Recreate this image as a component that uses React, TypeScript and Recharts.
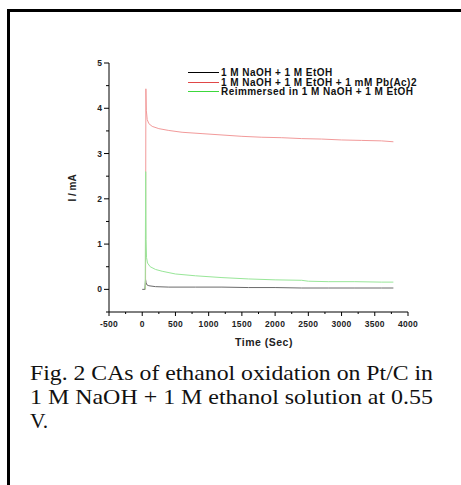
import { LineChart, Line, XAxis, YAxis, Legend } from 'recharts'

// chronoamperometry curves (time in s, current in mA)
const blackTime = [0, 40, 50, 58, 70, 100, 200, 400, 800, 1200, 1600, 2000, 2400, 2800, 3200, 3600, 3780]
const blackI = [0.0, 0.0, 0.22, 0.15, 0.1, 0.08, 0.06, 0.05, 0.05, 0.05, 0.04, 0.04, 0.03, 0.03, 0.03, 0.03, 0.03]

const redTime = [50, 55, 62, 75, 100, 150, 250, 400, 600, 900, 1200, 1500, 1800, 2100, 2400, 2700, 3000, 3300, 3600, 3780]
const redI = [0.0, 4.43, 3.95, 3.75, 3.66, 3.6, 3.55, 3.51, 3.47, 3.44, 3.41, 3.38, 3.36, 3.35, 3.33, 3.32, 3.3, 3.29, 3.28, 3.26]

const greenTime = [45, 52, 58, 65, 80, 120, 200, 300, 500, 800, 1200, 1600, 2000, 2400, 2500, 2800, 3200, 3600, 3780]
const greenI = [0.0, 2.6, 1.1, 0.7, 0.58, 0.5, 0.44, 0.4, 0.34, 0.3, 0.26, 0.23, 0.21, 0.2, 0.18, 0.17, 0.17, 0.16, 0.16]

const seriesNames = [
  '1 M NaOH + 1 M EtOH',
  '1 M NaOH + 1 M EtOH + 1 mM Pb(Ac)2',
  'Reimmersed in 1 M NaOH + 1 M EtOH',
]
const lineColors = ['#6a6a6a', '#f29a9a', '#98e698']
const legendColors = ['#000000', '#e04848', '#3cd83c']

const xTicks = [-500, -250, 0, 250, 500, 750, 1000, 1250, 1500, 1750, 2000, 2250, 2500, 2750, 3000, 3250, 3500, 3750, 4000]
const yTicks = [-0.5, 0, 0.5, 1, 1.5, 2, 2.5, 3, 3.5, 4, 4.5, 5]

const caption = [
  'Fig. 2 CAs of ethanol oxidation on Pt/C in',
  '1 M NaOH + 1 M ethanol solution at 0.55',
  'V.',
]

const zip = (t: number[], v: number[]) => t.map((x, i) => ({ t: x, i: v[i] }))
const seriesData = [zip(blackTime, blackI), zip(redTime, redI), zip(greenTime, greenI)]

const sans = '"Liberation Sans", Arial, sans-serif'

const XTick = (p: any) => {
  const v = p.payload.value
  const major = v % 500 === 0
  return (
    <g>
      <line x1={p.x} x2={p.x} y1={p.y} y2={p.y + (major ? 4 : 2)} stroke="#000" strokeWidth={1} />
      {major && (
        <text x={p.x} y={p.y + 15} textAnchor="middle" fontSize={8.5} fontWeight="bold" letterSpacing={0.3} fontFamily={sans} fill="#222">{v}</text>
      )}
    </g>
  )
}

const YTick = (p: any) => {
  const v = p.payload.value
  const major = Number.isInteger(v)
  return (
    <g>
      <line x1={p.x - (major ? 5 : 3)} x2={p.x} y1={p.y} y2={p.y} stroke="#000" strokeWidth={1} />
      {major && (
        <text x={p.x - 7} y={p.y + 3} textAnchor="end" fontSize={8.5} fontWeight="bold" fontFamily={sans} fill="#222">{v}</text>
      )}
    </g>
  )
}

const renderLegend = () => (
  <div style={{ fontFamily: sans, fontSize: 10, fontWeight: 'bold', letterSpacing: 0.45, color: '#111', whiteSpace: 'nowrap' }}>
    {seriesNames.map((n, k) => (
      <div key={n} style={{ height: 9.5, lineHeight: '9.5px', display: 'flex', alignItems: 'center' }}>
        <span style={{ display: 'inline-block', width: 31, height: 1, background: legendColors[k], marginRight: 2 }} />
        <span>{n}</span>
      </div>
    ))}
  </div>
)

export default function App() {
  return (
    <div style={{ position: 'absolute', left: 0, top: 0, width: 461, height: 485, overflow: 'hidden', background: '#fff' }}>
      <div style={{ position: 'absolute', left: 7, top: 9, width: 454, height: 476, boxSizing: 'border-box', borderLeft: '3px solid #000', borderTop: '3px solid #000' }} />
      <div style={{ position: 'absolute', left: 0, top: 0 }}>
        <LineChart width={461} height={360} margin={{ top: 63, right: 53, bottom: 8, left: 0 }}>
          <XAxis
            dataKey="t"
            type="number"
            domain={[-500, 4000]}
            ticks={xTicks}
            interval={0}
            tick={XTick}
            tickLine={false}
            tickSize={0}
            tickMargin={0}
            height={40}
            stroke="#000"
            allowDataOverflow
            label={{
              content: () => (
                <text x={264} y={346} textAnchor="middle" fontSize={10.5} fontWeight="bold" letterSpacing={0.5} fontFamily={sans} fill="#222">Time (Sec)</text>
              ),
            }}
          />
          <YAxis
            dataKey="i"
            type="number"
            domain={[-0.5, 5]}
            ticks={yTicks}
            interval={0}
            tick={YTick}
            tickLine={false}
            tickSize={0}
            tickMargin={0}
            width={109}
            stroke="#000"
            allowDataOverflow
            label={{
              content: () => (
                <text x={0} y={0} transform="translate(76,188) rotate(-90)" textAnchor="middle" fontSize={10} fontWeight="bold" fontFamily={sans} fill="#222">I / mA</text>
              ),
            }}
          />
          <Legend
            layout="horizontal"
            verticalAlign="middle"
            align="center"
            content={renderLegend}
            wrapperStyle={{ left: 188, top: 68, width: 265 }}
          />
          {seriesData.map((d, k) => (
            <Line
              key={seriesNames[k]}
              data={d}
              dataKey="i"
              name={seriesNames[k]}
              stroke={lineColors[k]}
              strokeWidth={1}
              dot={false}
              activeDot={false}
              isAnimationActive={false}
            />
          ))}
        </LineChart>
      </div>
      <svg style={{ position: 'absolute', left: 0, top: 355 }} width={461} height={90}>
        {caption.map((c, k) => (
          <text
            key={c}
            x={30}
            y={25 + k * 24}
            fontFamily='"Liberation Serif", "Times New Roman", serif'
            fontSize={21.5}
            fill="#111"
            textLength={k < 2 ? 403 : undefined}
            lengthAdjust="spacingAndGlyphs"
          >
            {c}
          </text>
        ))}
      </svg>
    </div>
  )
}
